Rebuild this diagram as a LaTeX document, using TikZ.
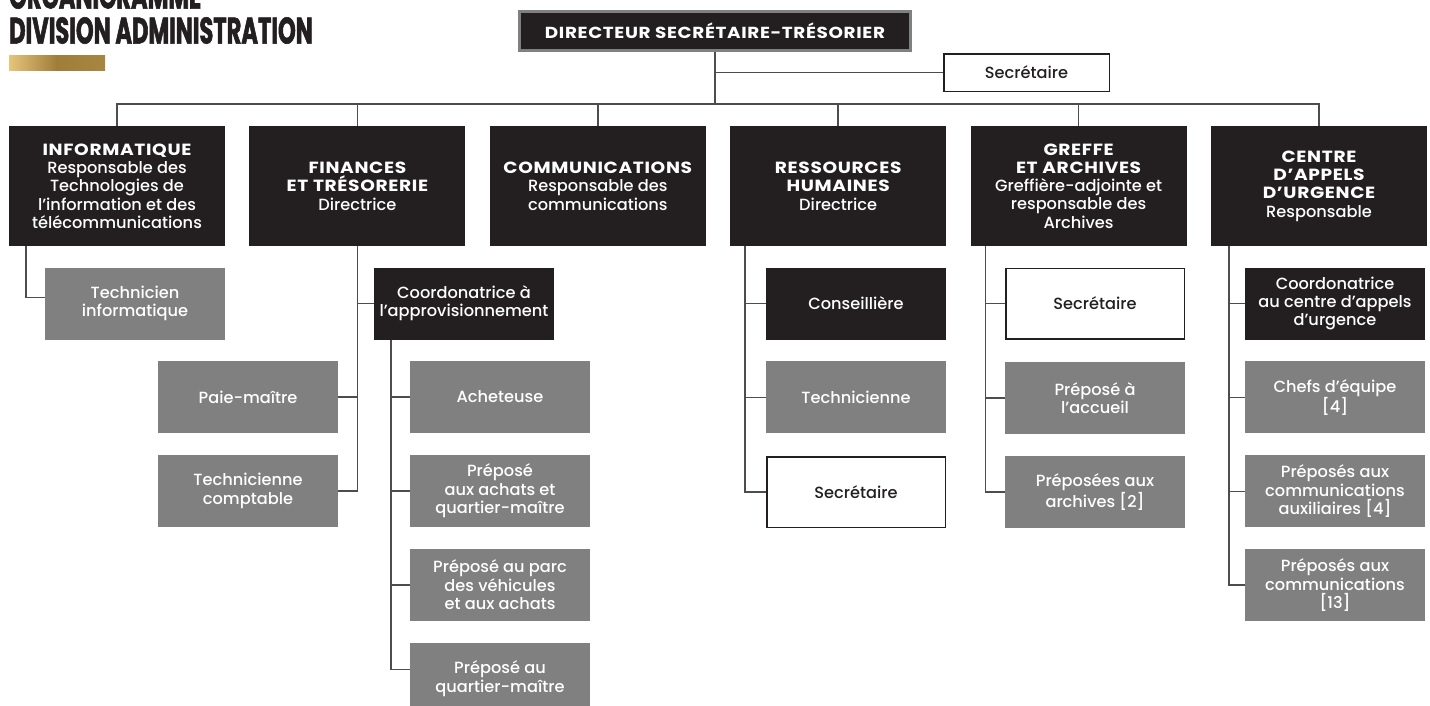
\documentclass[tikz,border=0pt]{standalone}
\usepackage{fontspec}
\setmainfont{Poppins}[UprightFont=* Medium, BoldFont=* Bold]
\newfontfamily\titlefont{Poppins Bold}[FakeStretch=0.61, FakeBold=1.5]
\newfontfamily\headfont{Poppins Bold}[FakeStretch=1.15, LetterSpace=4]
\newcommand{\hd}[1]{{\headfont #1}}
\usetikzlibrary{positioning}
\definecolor{ink}{RGB}{35,31,32}
\definecolor{mid}{RGB}{128,128,128}
\definecolor{wire}{RGB}{77,77,77}
\definecolor{goldA}{RGB}{230,196,122}
\definecolor{goldB}{RGB}{160,126,58}
\definecolor{goldC}{RGB}{166,134,64}
\tikzset{
    base/.style={rectangle, align=center, inner sep=2pt, font={\fontsize{16.2}{18.3}\selectfont}},
    head/.style={base, fill=ink, draw=mid, line width=3pt, text=white, font={\fontsize{16}{18}\selectfont\headfont}, minimum width=391pt, minimum height=39pt},
    dept/.style={base, fill=ink, text=white, minimum width=216pt, minimum height=120pt},
    darkbox/.style={base, fill=ink, text=white, minimum width=180pt, minimum height=72pt},
    greybox/.style={base, fill=mid, text=white, minimum width=180pt, minimum height=72pt},
    whitebox/.style={base, fill=white, draw=ink, line width=1.5pt, text=ink, minimum width=178.5pt, minimum height=70.5pt},
    link/.style={draw=wire, line width=1.5pt},
    banner/.style={font={\titlefont\fontsize{37}{35}\selectfont}, text=ink, align=left, inner sep=0pt}
}

\begin{document}
\begin{tikzpicture}[x=1pt, y=-1pt]
    \useasboundingbox (0,0) rectangle (1430,705);

    % Title
    \node[banner, anchor=south west] (ttl) at (9,44) {ORGANIGRAMME\\DIVISION ADMINISTRATION};
    \shade[left color=goldA, right color=goldC, middle color=goldB] (9,55) rectangle (105,70);

    % Top
    \node[head] (dir) at (715,31) {DIRECTEUR SECRÉTAIRE-TRÉSORIER};
    \node[whitebox, minimum width=165.5pt, minimum height=37.5pt] (sec) at (1026.5,72.5) {Secrétaire};
    \coordinate (hub) at (715,104);

    % Departments
    \node[dept] (info) at (117,186) {\hd{INFORMATIQUE}\\Responsable des\\Technologies de\\l’information et des\\télécommunications};
    \node[dept, right=24pt of info] (fin) {\hd{FINANCES}\\\hd{ET TRÉSORERIE}\\Directrice};
    \node[dept, right=24pt of fin] (comm) {\hd{COMMUNICATIONS}\\Responsable des\\communications};
    \node[dept, right=24pt of comm] (rh) {\hd{RESSOURCES}\\\hd{HUMAINES}\\Directrice};
    \node[dept, right=24pt of rh] (greffe) {\hd{GREFFE}\\\hd{ET ARCHIVES}\\Greffière-adjointe et\\responsable des\\Archives};
    \node[dept, right=24pt of greffe] (cau) {\hd{CENTRE}\\\hd{D’APPELS}\\\hd{D’URGENCE}\\Responsable};

    % Informatique
    \node[greybox] (techinfo) at (135,303.5) {Technicien\\informatique};

    % Finances
    \node[darkbox] (coord) at (464,303.5) {Coordonatrice à\\l’approvisionnement};
    \node[greybox] (paie) at (248,397) {Paie-maître};
    \node[greybox, below=21.5pt of paie] (techcpt) {Technicienne\\comptable};
    \node[greybox] (achat) at (500,397) {Acheteuse};
    \node[greybox, below=21.5pt of achat] (achqm) {Préposé\\aux achats et\\quartier-maître};
    \node[greybox, below=21.5pt of achqm] (parc) {Préposé au parc\\des véhicules\\et aux achats};
    \node[greybox, below=21.5pt of parc] (qm) {Préposé au\\quartier-maître};

    % Ressources humaines
    \node[darkbox] (cons) at (856,303.5) {Conseillière};
    \node[greybox, below=21.5pt of cons] (techrh) {Technicienne};
    \node[whitebox, below=22.5pt of techrh] (secrh) {Secrétaire};

    % Greffe
    \node[whitebox] (secgr) at (1095,303.5) {Secrétaire};
    \node[greybox, below=22.5pt of secgr] (accueil) {Préposé à\\l’accueil};
    \node[greybox, below=21.5pt of accueil] (archiv) {Préposées aux\\archives [2]};

    % Centre d'appels
    \node[darkbox] (coordcau) at (1335,303.5) {Coordonatrice\\au centre d’appels\\d’urgence};
    \node[greybox, below=21.5pt of coordcau] (chefs) {Chefs d’équipe\\{[4]}};
    \node[greybox, below=21.5pt of chefs] (aux) {Préposés aux\\communications\\auxiliaires [4]};
    \node[greybox, below=21.5pt of aux] (prepcom) {Préposés aux\\communications\\{[13]}};

    % Connections
    \draw[link] (dir) -- (hub);
    \draw[link] (dir.south) |- (sec.west);
    \foreach \d in {info,fin,comm,rh,greffe,cau}
        \draw[link] (hub) -| (\d.north);

    \coordinate (infos) at ([xshift=17pt]info.south west);
    \draw[link] (infos) |- ([yshift=6pt]techinfo.west);

    \draw[link] (fin.south) |- (coord.west);
    \draw[link] (fin.south) |- (paie.east);
    \draw[link] (fin.south) |- (techcpt.east);

    \coordinate (coords) at ([xshift=17pt]coord.south west);
    \foreach \sub in {achat,achqm,parc}
        \draw[link] (coords) |- (\sub.west);
    \draw[link] (coords) |- ([yshift=9pt]qm.west);

    \coordinate (rhs) at ([xshift=15pt]rh.south west);
    \foreach \sub in {cons,techrh,secrh}
        \draw[link] (rhs) |- (\sub.west);

    \coordinate (grs) at ([xshift=15pt]greffe.south west);
    \foreach \sub in {secgr,accueil,archiv}
        \draw[link] (grs) |- (\sub.west);

    \coordinate (caus) at ([xshift=18pt]cau.south west);
    \foreach \sub in {coordcau,chefs,aux,prepcom}
        \draw[link] (caus) |- (\sub.west);
\end{tikzpicture}
\end{document}
